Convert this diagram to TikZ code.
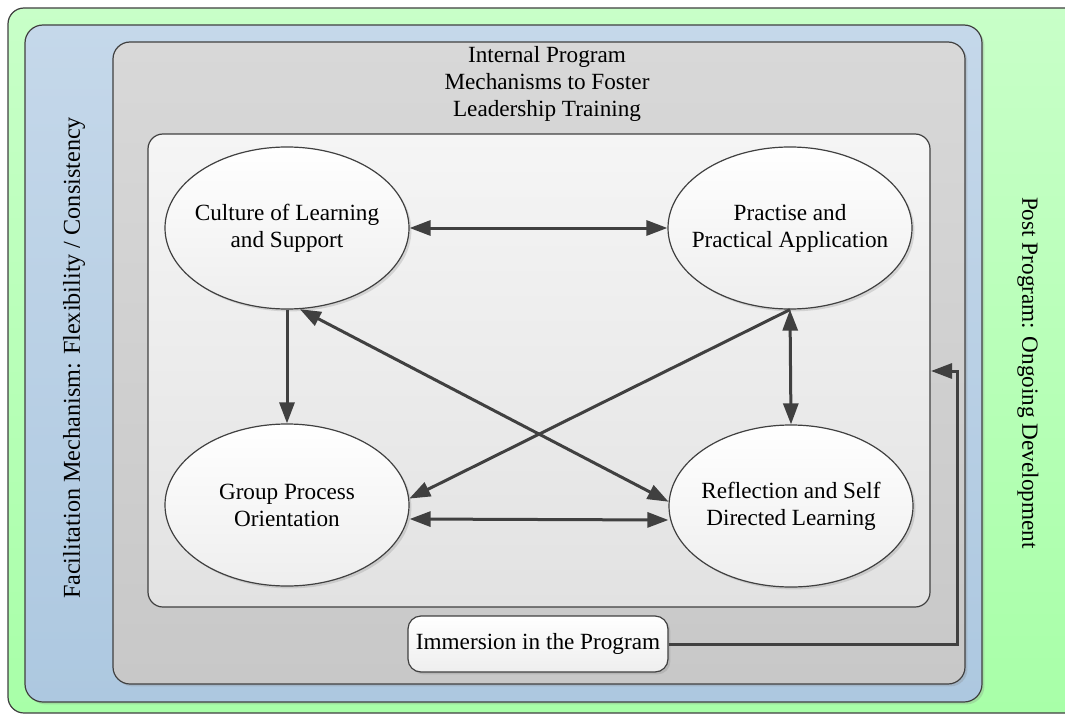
\documentclass[tikz,border=0pt]{standalone}
\usepackage{fontspec}
\setmainfont{Liberation Serif}
\usetikzlibrary{arrows.meta,shapes.geometric,shadows}
\definecolor{edge}{RGB}{64,64,64}
\definecolor{greentop}{RGB}{200,255,200}
\definecolor{greenbot}{RGB}{168,255,168}
\definecolor{bluetop}{RGB}{197,216,234}
\definecolor{bluebot}{RGB}{173,200,224}
\definecolor{graytop}{RGB}{216,216,216}
\definecolor{graybot}{RGB}{200,200,200}
\definecolor{innertop}{RGB}{245,245,245}
\definecolor{innerbot}{RGB}{226,226,226}
\definecolor{ellbot}{RGB}{238,238,238}
\begin{document}
\begin{tikzpicture}[x=0.5pt,y=-0.5pt,
  lbl/.style={font=\fontsize{11.6}{13.5}\selectfont,align=center,inner sep=0pt},
  shad/.style={drop shadow={opacity=0.25,shadow xshift=1.2pt,shadow yshift=-1.2pt}},
  box/.style={draw=edge,line width=0.6pt},
  ell/.style={lbl,ellipse,draw=edge,line width=0.6pt,top color=white,bottom color=ellbot,
    minimum width=122pt,minimum height=81pt,inner xsep=-12pt,inner ysep=0pt,shad},
  conn/.style={draw=edge,line width=1.5pt,-{Triangle[length=10.5pt,width=7.5pt]}},
  biconn/.style={draw=edge,line width=1.5pt,{Triangle[length=10.5pt,width=7.5pt]}-{Triangle[length=10.5pt,width=7.5pt]}}]
\clip (0,0) rectangle (1065,717);
% outer containers
\draw[box,top color=greentop,bottom color=greenbot,rounded corners=8pt] (8,8) rectangle (1090,713);
\draw[box,top color=bluetop,bottom color=bluebot,rounded corners=9pt,shad] (25,25) rectangle (982,702);
\draw[box,top color=graytop,bottom color=graybot,rounded corners=8.5pt,shad] (113,42) rectangle (965,684);
\draw[box,top color=innertop,bottom color=innerbot,rounded corners=7.5pt] (148,134) rectangle (930,607);
% container labels
\node[lbl] (title) at (547,84) {Internal Program\\Mechanisms to Foster\\Leadership Training};
\node[lbl,font=\fontsize{12.1}{14}\selectfont,rotate=90] (facil) at (74,358) {Facilitation Mechanism: Flexibility / Consistency};
\node[lbl,rotate=-90] (post) at (1028,373) {Post Program: Ongoing Development};
% ellipses
\node[ell] (cul) at (287,228) {Culture of Learning\\and Support};
\node[ell] (pra) at (790,228) {Practise and\\Practical Application};
\node[ell] (grp) at (287,505) {Group Process\\Orientation};
\node[ell] (ref) at (791,506) {Reflection and Self\\Directed Learning};
% immersion box
\node[lbl,draw=edge,line width=0.6pt,rounded corners=6.5pt,top color=white,bottom color=ellbot,
  minimum width=130pt,minimum height=28pt,shad] (imm) at (538,644) {Immersion in the Program};
% connectors
\draw[biconn] (cul.east) -- (pra.west);
\draw[biconn] ([yshift=-7pt]grp.east) -- ([yshift=-7pt]ref.west);
\draw[conn] (cul.south) -- (grp.north);
\draw[biconn] (pra.south) -- (ref.north);
\draw[biconn] (cul.-81) -- (ref.178);
\draw[conn] (pra.south) -- (grp.3);
\coordinate (bend) at (957,371);
\coordinate (postin) at (931,371);
\draw[conn] (imm.east) -| (bend) -- (postin);
\end{tikzpicture}
\end{document}
